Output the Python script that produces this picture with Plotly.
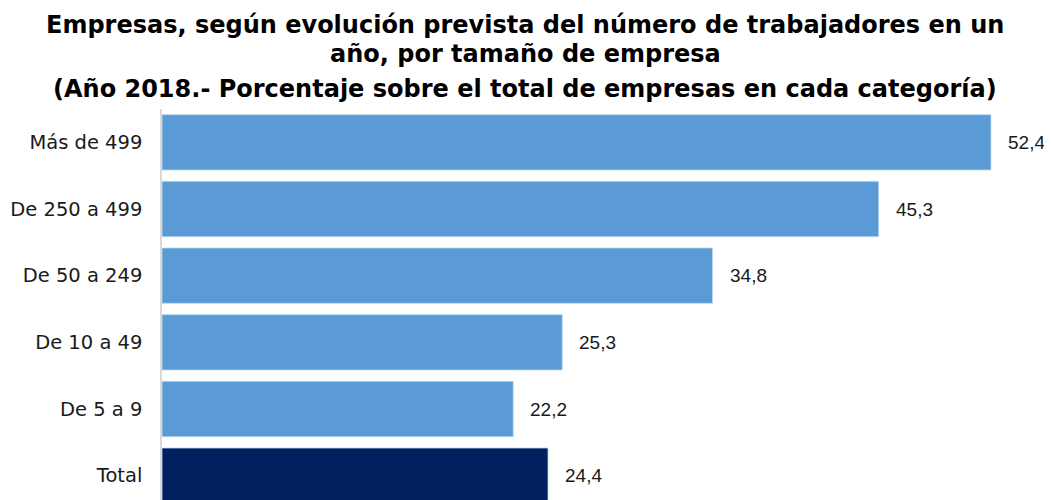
import plotly.graph_objects as go

categories = ["Más de 499", "De 250 a 499", "De 50 a 249", "De 10 a 49", "De 5 a 9", "Total"]
values = [52.4, 45.3, 34.8, 25.3, 22.2, 24.4]
colors = ["#5B9BD5", "#5B9BD5", "#5B9BD5", "#5B9BD5", "#5B9BD5", "#002060"]
title_lines = [
    "Empresas, según evolución prevista del número de trabajadores en un",
    "año, por tamaño de empresa",
    "(Año 2018.- Porcentaje sobre el total de empresas en cada categoría)",
]

# page body has an 8px margin, so the figure starts at (8, 8)
OFF = 8
W, H = 1044, 492
ml, mr, mt, mb = 154, 12, 101, 0
pw, ph = W - ml - mr, H - mt - mb

fig = go.Figure()
fig.add_trace(go.Bar(
    y=categories, x=values, orientation="h",
    marker=dict(color=colors, line=dict(color="#BDD7EE", width=0.8)),
    hoverinfo="x+y",
))

annotations = []
for c, v in zip(categories, values):
    annotations.append(dict(
        x=v, y=c, xref="x", yref="y", xanchor="left", yanchor="middle",
        xshift=15, showarrow=False,
        text=f"{v:.1f}".replace(".", ","),
        font=dict(family="Liberation Sans, Arial", size=19, color="#1a1a1a"),
    ))
title_y = [25, 54, 89]
for t, yy in zip(title_lines, title_y):
    annotations.append(dict(
        x=(525 - OFF - ml) / pw, y=1 + (mt - (yy - OFF)) / ph,
        xref="paper", yref="paper", text=f"<b>{t}</b>",
        showarrow=False, xanchor="center", yanchor="middle",
        font=dict(family="DejaVu Sans", size=24, color="#000000"),
    ))

fig.update_layout(
    width=W, height=H,
    margin=dict(l=ml, r=mr, t=mt, b=mb, autoexpand=False),
    plot_bgcolor="white", paper_bgcolor="white",
    bargap=0.17,
    showlegend=False,
    annotations=annotations,
    xaxis=dict(range=[0, 55.5], visible=False, showgrid=False, zeroline=False),
    yaxis=dict(
        type="category", categoryorder="array", categoryarray=categories,
        range=[5.365, -0.5],
        showline=True, linecolor="#D9D9D9", linewidth=1.5,
        showgrid=False, zeroline=False, ticks="",
        ticklabelstandoff=14,
        tickfont=dict(family="DejaVu Sans", size=19.5, color="#1a1a1a"),
    ),
)

fig.write_html("out.html")
